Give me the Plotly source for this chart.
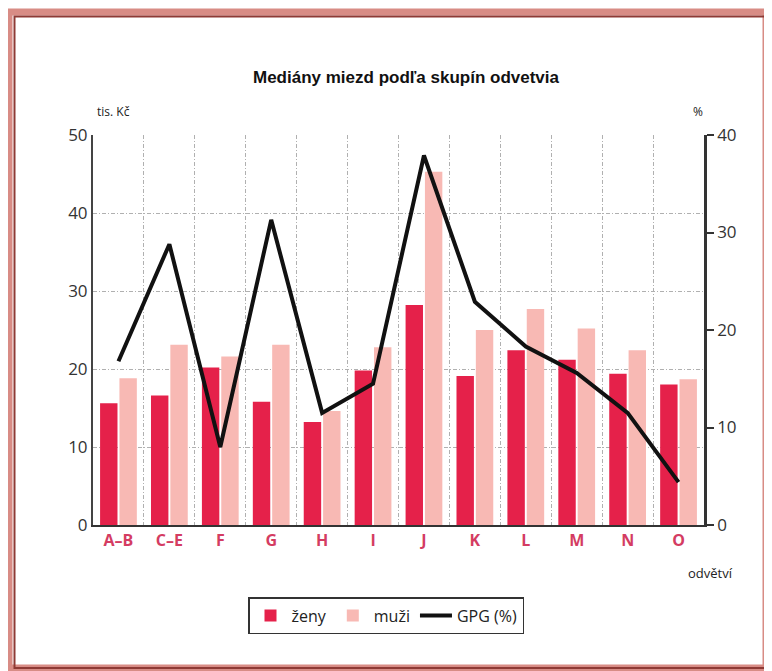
import plotly.graph_objects as go

categories = ["A–B", "C–E", "F", "G", "H", "I", "J", "K", "L", "M", "N", "O"]
zeny = [15.6, 16.6, 20.2, 15.8, 13.2, 19.8, 28.2, 19.1, 22.4, 21.2, 19.4, 18.0]
muzi = [18.8, 23.1, 21.6, 23.1, 14.6, 22.8, 45.3, 25.0, 27.7, 25.2, 22.4, 18.7]
gpg = [16.8, 28.8, 8.0, 31.3, 11.5, 14.5, 37.9, 22.9, 18.3, 15.6, 11.5, 4.4]
left_ticks = [0, 10, 20, 30, 40, 50]
right_ticks = [0, 10, 20, 30, 40]

W, H = 772, 671
OFF = 8  # page body margin
# plot area in screenshot coordinates: x 93..703, y 135..525
L = 93 - OFF
T = 135 - OFF
R = W - (704 - OFF)
B = H - (525 - OFF)
pw, ph = W - L - R, H - T - B


def px(x):
    return (x - OFF - L) / pw


def py(y):
    return (H - B - (y - OFF)) / ph


fig = go.Figure()
fig.add_trace(go.Bar(x=categories, y=zeny, name="ženy", marker=dict(color="#e5214a", line=dict(width=0))))
fig.add_trace(go.Bar(x=categories, y=muzi, name="muži", marker=dict(color="#f8b9b4", line=dict(width=0))))
fig.add_trace(go.Scatter(x=categories, y=gpg, name="GPG (%)", mode="lines",
                         line=dict(color="#111111", width=4), yaxis="y2"))

tick_font = dict(family="Open Sans, Lato, sans-serif", size=17, color="#333333")
grid_dash = "4px,2px,1px,2px"

fig.update_layout(
    width=W, height=H,
    margin=dict(l=L, r=R, t=T, b=B, autoexpand=False),
    paper_bgcolor="white", plot_bgcolor="white",
    barmode="group", bargap=0.24, bargroupgap=0.1,
    showlegend=True,
    legend=dict(orientation="h", x=px(248), y=py(597), xanchor="left", yanchor="top",
                bordercolor="#333333", borderwidth=1.5,
                font=dict(family="Open Sans, sans-serif", size=16, color="#222222"),
                itemwidth=32, traceorder="normal"),
    title=dict(text="<b>Mediány miezd podľa skupín odvetvia</b>", x=px(408), xanchor="center",
               y=1 - (77 - OFF) / H, yanchor="middle",
               font=dict(family="Liberation Sans, Arial, sans-serif", size=17, color="#111111")),
    xaxis=dict(type="category", tickson="boundaries", showgrid=True, gridcolor="#b0b0b0",
               griddash=grid_dash, gridwidth=1, ticks="", showline=True, linecolor="#333333",
               linewidth=2, layer="below traces",
               tickfont=dict(family="Open Sans, sans-serif", size=16, color="#d43c62", weight="bold")),
    yaxis=dict(range=[0, 50], tickvals=left_ticks, showgrid=True, gridcolor="#b0b0b0",
               griddash=grid_dash, gridwidth=1, showline=True, linecolor="#444444", linewidth=2,
               ticks="", tickfont=tick_font, zeroline=False),
    yaxis2=dict(range=[0, 40], tickvals=right_ticks, overlaying="y", side="right", showgrid=False,
                showline=True, linecolor="#333333", linewidth=2.5, ticks="outside", ticklen=7,
                tickcolor="#333333", tickwidth=2, tickfont=tick_font, zeroline=False),
)

fig.add_annotation(text="tis. Kč", xref="paper", yref="paper", x=px(95), y=py(111),
                   xanchor="left", yanchor="middle", showarrow=False,
                   font=dict(family="Open Sans, sans-serif", size=12, color="#222222"))
fig.add_annotation(text="%", xref="paper", yref="paper", x=px(698), y=py(111),
                   xanchor="center", yanchor="middle", showarrow=False,
                   font=dict(family="Open Sans, sans-serif", size=12, color="#222222"))
fig.add_annotation(text="odvětví", xref="paper", yref="paper", x=px(710), y=py(573),
                   xanchor="center", yanchor="middle", showarrow=False,
                   font=dict(family="Open Sans, sans-serif", size=13, color="#222222"))

# outer frame
fig.add_shape(type="rect", xref="paper", yref="paper", x0=px(9), x1=px(766), y0=py(668), y1=py(12),
              line=dict(color="#d88c85", width=7), layer="below")
fig.add_shape(type="rect", xref="paper", yref="paper", x0=px(14.5), x1=px(766), y0=py(668), y1=py(16.5),
              line=dict(color="#8e3a35", width=2), layer="below")

fig.write_html("out.html")
